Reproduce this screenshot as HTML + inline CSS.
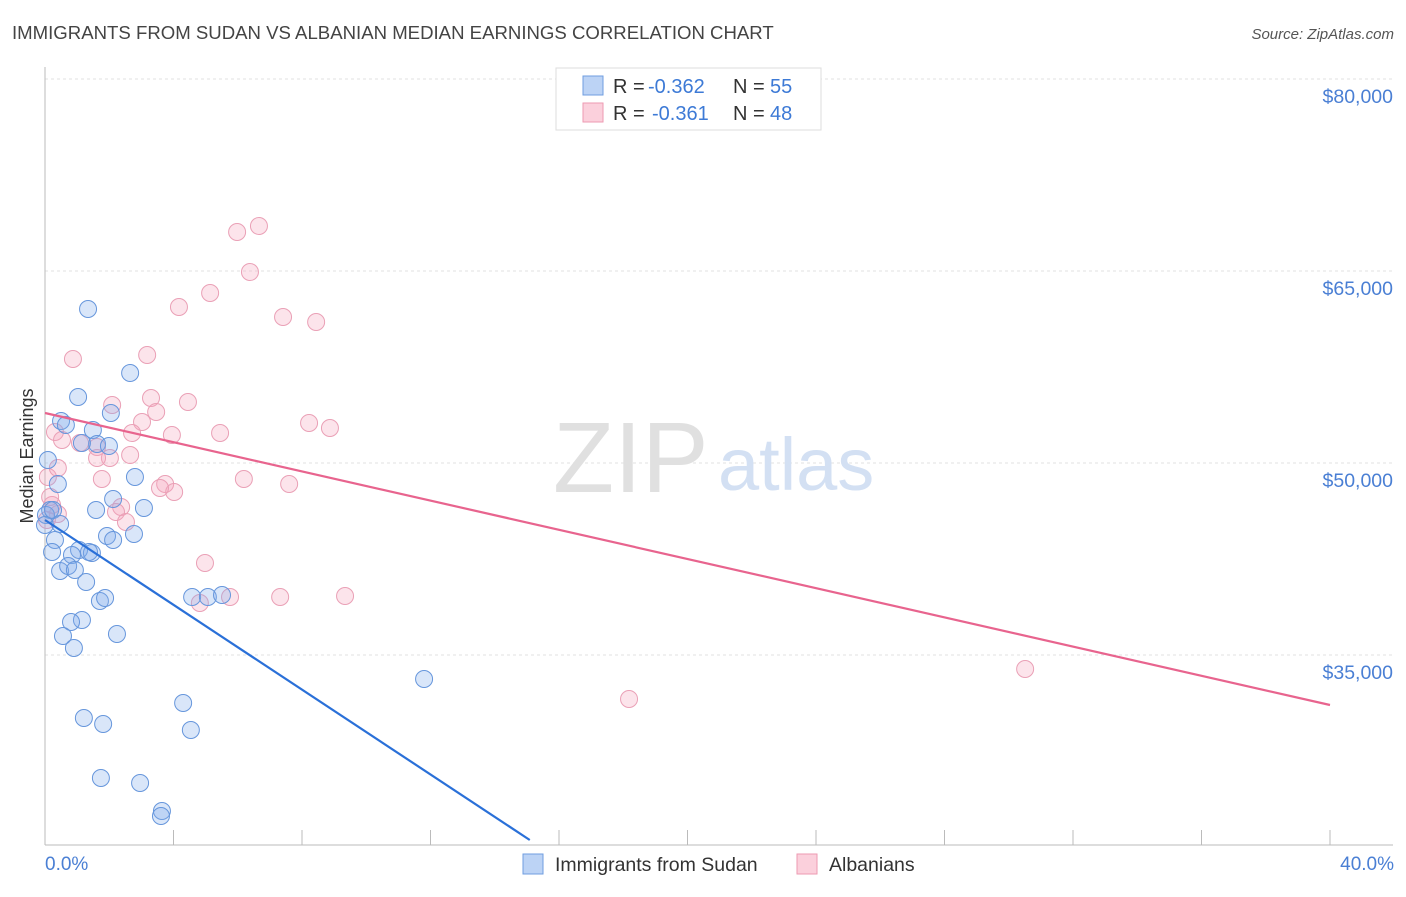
<!DOCTYPE html>
<html><head><meta charset="utf-8"><style>
body{margin:0;background:#fff;font-family:"Liberation Sans",sans-serif;}
svg text{font-family:"Liberation Sans",sans-serif;}
</style></head><body>
<svg id="chart" width="1406" height="892" viewBox="0 0 1406 892" xmlns="http://www.w3.org/2000/svg">
<text x="12" y="39" font-size="18.6" fill="#444">IMMIGRANTS FROM SUDAN VS ALBANIAN MEDIAN EARNINGS CORRELATION CHART</text>
<text x="1394" y="39" font-size="15" fill="#555" font-style="italic" text-anchor="end">Source: ZipAtlas.com</text>
<g id="grid"></g>
<g id="axes"></g>
<text x="553" y="492" font-size="100" fill="#e0e0e0" font-family="Liberation Serif">ZIP</text>
<text x="718" y="490" font-size="74" fill="#d3e0f3">atlas</text>
<g id="marks"></g>
<text transform="translate(33,456) rotate(-90)" font-size="18" fill="#333" text-anchor="middle">Median Earnings</text>
<text x="45" y="870" font-size="19" fill="#4a7fd4">0.0%</text>
<text x="1394" y="870" font-size="19" fill="#4a7fd4" text-anchor="end">40.0%</text>
<g>
<rect x="556" y="68" width="265" height="62" fill="#fff" stroke="#ddd"/>
<rect x="583" y="76" width="20" height="19" fill="#bcd3f5" stroke="#6f9ee0"/>
<rect x="583" y="103" width="20" height="19" fill="#fbd0dc" stroke="#ee9ab2"/>
<text x="613" y="93" font-size="20" fill="#333">R =</text>
<text x="648" y="93" font-size="20" fill="#3d7ad6">-0.362</text>
<text x="733" y="93" font-size="20" fill="#333">N =</text>
<text x="770" y="93" font-size="20" fill="#3d7ad6">55</text>
<text x="613" y="120" font-size="20" fill="#333">R =</text>
<text x="652" y="120" font-size="20" fill="#3d7ad6">-0.361</text>
<text x="733" y="120" font-size="20" fill="#333">N =</text>
<text x="770" y="120" font-size="20" fill="#3d7ad6">48</text>
</g>
<g>
<rect x="523" y="854" width="20" height="20" fill="#bcd3f5" stroke="#6f9ee0"/>
<text x="555" y="871" font-size="19.5" fill="#333">Immigrants from Sudan</text>
<rect x="797" y="854" width="20" height="20" fill="#fbd0dc" stroke="#ee9ab2"/>
<text x="829" y="871" font-size="19.5" fill="#333">Albanians</text>
</g>
</svg>
<script>
const yTicks=[80000,65000,50000,35000];
const yTickLabels=["$80,000","$65,000","$50,000","$35,000"];
const xTicks=[0,4,8,12,16,20,24,28,32,36,40];
const sudanX=[1.34,2.65,1.03,2.05,0.50,0.65,1.49,1.62,1.99,1.15,2.80,0.09,0.40,2.12,3.08,1.59,0.16,0.03,0.31,2.77,1.93,2.12,0.22,1.06,1.46,0.84,0.47,0.72,0.93,1.28,1.71,1.87,1.15,0.81,0.56,2.24,0.90,4.58,5.07,5.51,4.30,11.80,1.21,1.81,4.54,1.74,2.96,3.64,3.61,0.25,0,0.47,1.37];
const sudanY=[62031,57031,55156,53906,53281,52969,52578,51484,51328,51563,48906,50234,48359,47188,46484,46328,46328,45938,43984,44453,44297,43984,43047,43203,42969,42813,41563,41953,41641,40703,39219,39453,37734,37578,36484,36641,35547,39531,39531,39688,31250,33125,30078,29609,29141,25391,25000,22813,22422,46328,45156,45234,43047];
const albX=[5.98,6.66,6.38,5.14,4.17,7.41,8.44,0.87,3.18,3.30,2.09,3.46,4.45,3.02,3.95,5.45,8.22,8.87,2.71,0.31,0.53,1.09,1.62,2.02,1.62,0.09,0.40,2.65,6.19,7.60,3.74,4.02,3.58,1.77,2.37,2.21,2.52,0.40,4.98,4.82,5.76,7.32,9.34,30.51,18.18,0.22,0.16,0.06];
const albY=[68047,68516,64922,63281,62188,61406,61016,58125,58438,55078,54531,53984,54766,53203,52188,52344,53125,52734,52344,52422,51797,51563,51250,50391,50391,48906,49609,50625,48750,48359,48359,47734,48047,48750,46563,46172,45391,46016,42188,39063,39531,39531,39609,33906,31563,46719,47344,45547];
const sudanTrend=[[0,45547],[15.09,20547]];
const albTrend=[[0,53906],[40,31094]];
const NS="http://www.w3.org/2000/svg";
const X=v=>45+v/40*1285;
const Y=v=>79+(80000-v)*0.0128;
function mk(tag,attrs,parent){const e=document.createElementNS(NS,tag);for(const k in attrs)e.setAttribute(k,attrs[k]);parent.appendChild(e);return e;}
const grid=document.getElementById('grid'),axes=document.getElementById('axes'),marks=document.getElementById('marks');
yTicks.forEach((t,i)=>{
 const l=mk('line',{x1:45,x2:1393,y1:Y(t),y2:Y(t),stroke:'#e2e2e2','stroke-dasharray':'3,3'},grid);
 
 
 const tx=mk('text',{x:1393,y:Y(t)+24,'font-size':19.5,fill:'#4a7fd4','text-anchor':'end'},grid);
 tx.textContent=yTickLabels[i];
 
 
});
mk('line',{x1:45,x2:45,y1:67,y2:845,stroke:'#bbb'},axes);
mk('line',{x1:45,x2:1393,y1:845,y2:845,stroke:'#bbb'},axes);
xTicks.forEach(t=>{
 const l=mk('line',{x1:X(t),x2:X(t),y1:830,y2:845,stroke:'#bbb'},axes);
 
 
});
function dots(xs,ys,fill,stroke,name){
 xs.forEach((x,i)=>{
  const c=mk('circle',{cx:X(x),cy:Y(ys[i]),r:8.5,fill:fill,stroke:stroke,'stroke-width':1},marks);
  
  
 });
}
dots(albX,albY,'rgba(245,165,190,0.3)','#eaa0b6','albanians-point');
dots(sudanX,sudanY,'rgba(130,172,235,0.3)','#6696dc','sudan-point');
const tl1=mk('line',{x1:X(albTrend[0][0]),y1:Y(albTrend[0][1]),x2:X(albTrend[1][0]),y2:Y(albTrend[1][1]),stroke:'#e8648e','stroke-width':2.2},marks);


const tl2=mk('line',{x1:X(sudanTrend[0][0]),y1:Y(sudanTrend[0][1]),x2:X(sudanTrend[1][0]),y2:Y(sudanTrend[1][1]),stroke:'#2a70d8','stroke-width':2.2},marks);


</script>
</body></html>
